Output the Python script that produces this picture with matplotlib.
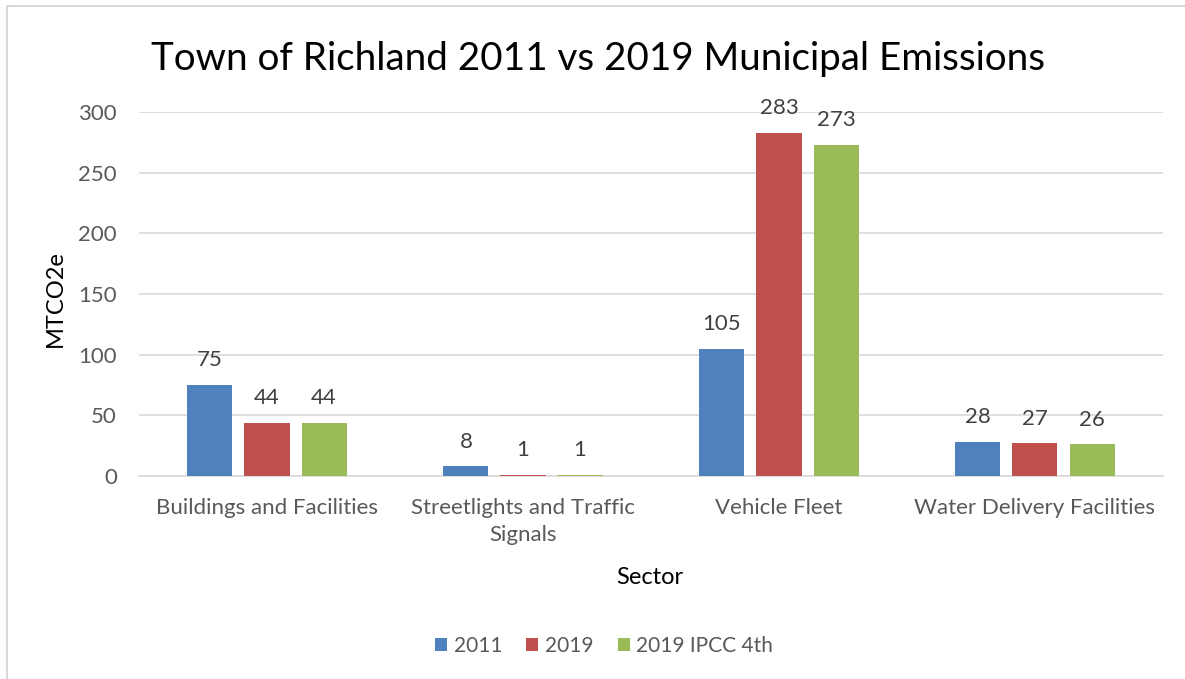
import numpy as np
import matplotlib
matplotlib.use("Agg")
import matplotlib.pyplot as plt
from matplotlib.patches import Rectangle

plt.rcParams["font.family"] = ["Lato", "DejaVu Sans"]

sectors = ["Buildings and Facilities", "Streetlights and Traffic\nSignals",
           "Vehicle Fleet", "Water Delivery Facilities"]
series_names = ["2011", "2019", "2019 IPCC 4th"]
v2011 = [75, 8, 105, 28]
v2019 = [44, 1, 283, 27]
v2019_ipcc = [44, 1, 273, 26]
colors = ["#4f81bd", "#c0504d", "#9bbb59"]

fig = plt.figure(figsize=(11.85, 6.79), dpi=100)
ax = fig.add_axes([0.1173, 0.299, 0.8641, 0.536])

x = np.arange(len(sectors))
width = 0.176
step = 0.223
for i, (vals, name, c) in enumerate(zip([v2011, v2019, v2019_ipcc], series_names, colors)):
    pos = x + (i - 1) * step
    bars = ax.bar(pos, vals, width, color=c, label=name, zorder=3)
    for b, v in zip(bars, vals):
        ax.text(b.get_x() + b.get_width() / 2, v + 12, str(v), ha="center", va="bottom",
                fontsize=16, color="#404040")

ax.set_xlim(-0.5, 3.5)
ax.set_ylim(0, 300)
ax.set_yticks(range(0, 301, 50))
ax.yaxis.grid(True, color="#d9d9d9", linewidth=1.2, zorder=0)
ax.set_axisbelow(True)
for s in ["top", "right", "left"]:
    ax.spines[s].set_visible(False)
ax.spines["bottom"].set_color("#d9d9d9")
ax.spines["bottom"].set_linewidth(1.2)
ax.tick_params(length=0, labelsize=16, labelcolor="#595959")
ax.tick_params(axis="x", pad=16)
ax.tick_params(axis="y", pad=16)
ax.set_xticks(x)
ax.set_xticklabels(sectors, linespacing=1.45)
fig.text(0.047, 1 - 299 / 679, "MTCO2e", rotation=90, fontsize=17,
         ha="center", va="center")
fig.text(0.548, 1 - 577 / 679, "Sector", fontsize=17, ha="center", va="center")

fig.suptitle("Town of Richland 2011 vs 2019 Municipal Emissions", fontsize=27.8,
             x=598 / 1185, y=0.94)

fig.legend(loc="center", ncol=3, frameon=False, fontsize=15,
           bbox_to_anchor=(604 / 1185, 1 - 646 / 679), handlelength=0.58, handleheight=0.58,
           handletextpad=0.33, columnspacing=1.15, labelcolor="#595959")

fig.patches.append(Rectangle((0.006, -0.1), 1.2, 1.091, transform=fig.transFigure,
                             fill=False, edgecolor="#d9d9d9", linewidth=1.5))

fig.savefig("out.png", dpi=100)
